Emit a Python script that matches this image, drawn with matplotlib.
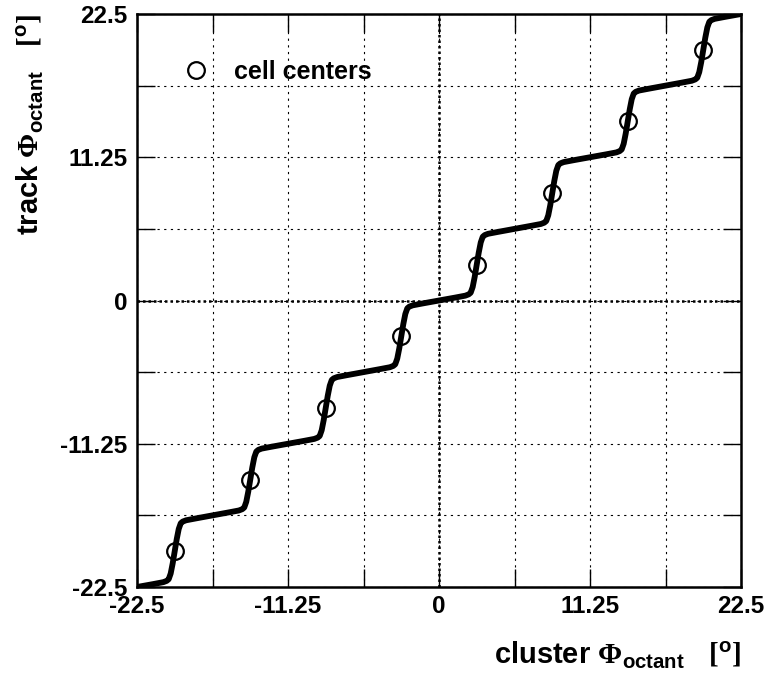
import matplotlib
matplotlib.use("Agg")
import matplotlib.pyplot as plt
from matplotlib.lines import Line2D

plt.rcParams["font.family"] = ["Liberation Sans", "DejaVu Sans"]
plt.rcParams["font.weight"] = "bold"
plt.rcParams["mathtext.fontset"] = "custom"
plt.rcParams["mathtext.rm"] = "Liberation Serif"
plt.rcParams["mathtext.bf"] = "Liberation Sans:bold"
plt.rcParams["mathtext.it"] = "Liberation Sans:bold"

# response curve: track phi vs cluster phi inside one octant (degrees)
cluster_phi = [
    -22.5, -21.29, -20.54, -20.29, -20.14, -19.99, -19.84, -19.69, -19.54, -19.39, -19.24, -19.09, -18.84, -18.09,
    -16.875, -15.66, -14.91, -14.66, -14.51, -14.36, -14.21, -14.06, -13.91, -13.76, -13.61, -13.46, -13.21, -12.46,
    -11.25, -10.04, -9.29, -9.04, -8.89, -8.74, -8.59, -8.44, -8.29, -8.14, -7.99, -7.84, -7.59, -6.84,
    -5.625, -4.41, -3.66, -3.41, -3.26, -3.11, -2.96, -2.81, -2.66, -2.51, -2.36, -2.21, -1.96, -1.21,
    0.0, 1.21, 1.96, 2.21, 2.36, 2.51, 2.66, 2.81, 2.96, 3.11, 3.26, 3.41, 3.66, 4.41,
    5.625, 6.84, 7.59, 7.84, 7.99, 8.14, 8.29, 8.44, 8.59, 8.74, 8.89, 9.04, 9.29, 10.04,
    11.25, 12.46, 13.21, 13.46, 13.61, 13.76, 13.91, 14.06, 14.21, 14.36, 14.51, 14.66, 14.91, 15.66,
    16.875, 18.09, 18.84, 19.09, 19.24, 19.39, 19.54, 19.69, 19.84, 19.99, 20.14, 20.29, 20.54, 21.29,
    22.5,
]
track_phi = [
    -22.5, -22.27, -22.12, -22.02, -21.89, -21.44, -20.64, -19.69, -18.74, -17.94, -17.49, -17.36, -17.26, -17.11,
    -16.875, -16.64, -16.49, -16.39, -16.26, -15.81, -15.01, -14.06, -13.11, -12.31, -11.86, -11.73, -11.63, -11.48,
    -11.25, -11.02, -10.87, -10.77, -10.64, -10.19, -9.39, -8.44, -7.49, -6.69, -6.24, -6.11, -6.01, -5.86,
    -5.625, -5.39, -5.24, -5.14, -5.01, -4.56, -3.76, -2.81, -1.86, -1.06, -0.61, -0.48, -0.38, -0.23,
    0.0, 0.23, 0.38, 0.48, 0.61, 1.06, 1.86, 2.81, 3.76, 4.56, 5.01, 5.14, 5.24, 5.39,
    5.625, 5.86, 6.01, 6.11, 6.24, 6.69, 7.49, 8.44, 9.39, 10.19, 10.64, 10.77, 10.87, 11.02,
    11.25, 11.48, 11.63, 11.73, 11.86, 12.31, 13.11, 14.06, 15.01, 15.81, 16.26, 16.39, 16.49, 16.64,
    16.875, 17.11, 17.26, 17.36, 17.49, 17.94, 18.74, 19.69, 20.64, 21.44, 21.89, 22.02, 22.12, 22.27,
    22.5,
]

# cell centers
cell_x = [-19.6875, -14.0625, -8.4375, -2.8125, 2.8125, 8.4375, 14.0625, 19.6875]
cell_y = [-19.6875, -14.0625, -8.4375, -2.8125, 2.8125, 8.4375, 14.0625, 19.6875]

ticks = [-22.5, -16.875, -11.25, -5.625, 0, 5.625, 11.25, 16.875, 22.5]
tick_labels = ["-22.5", "", "-11.25", "", "0", "", "11.25", "", "22.5"]

fig = plt.figure(figsize=(7.65, 6.78), dpi=100)
ax = fig.add_axes([137 / 765, 1 - 587 / 678, 604 / 765, 573 / 678])

ax.set_xlim(-22.5, 22.5)
ax.set_ylim(-22.5, 22.5)
ax.set_xticks(ticks)
ax.set_xticklabels(tick_labels)
ax.set_yticks(ticks)
ax.set_yticklabels(tick_labels)
ax.tick_params(direction="in", length=13, width=1.0, top=True, right=True,
               labelsize=17.5, color="black")
ax.tick_params(axis="x", pad=6)
ax.tick_params(axis="y", pad=7)
for lab in ax.get_xticklabels() + ax.get_yticklabels():
    lab.set_fontweight("bold")

ax.grid(True, color="black", lw=0.8, ls=(0, (2, 4)))
ax.axhline(0, color="black", lw=1.8, ls=(0, (1, 1.2)), zorder=1)
ax.axvline(0, color="black", lw=1.8, ls=(0, (1, 1.2)), zorder=1)
for s in ax.spines.values():
    s.set_linewidth(1.8)

ax.plot(cluster_phi, track_phi, color="black", lw=4.2,
        solid_joinstyle="round", solid_capstyle="round", zorder=3)
ax.plot(cell_x, cell_y, ls="none", marker="o", ms=12, mfc="none",
        mec="black", mew=1.6, zorder=4)

handle = Line2D([], [], ls="none", marker="o", ms=12, mfc="none",
                mec="black", mew=1.6)
ax.legend([handle], ["cell centers"], loc="center left",
          bbox_to_anchor=(0.0565, 0.899), frameon=False, borderpad=0,
          handlelength=1.0, handletextpad=1.0,
          prop={"size": 18, "weight": "bold"})

fig.text(741 / 765, 1 - 655 / 678,
         r"cluster $\mathrm{\Phi}_{\mathbf{octant}}$   $\mathrm{[}^{\mathbf{o}}\mathrm{]}$",
         ha="right", va="center", fontsize=21, fontweight="bold")
fig.text(30 / 765, 1 - 14 / 678,
         r"track $\mathrm{\Phi}_{\mathbf{octant}}$   $\mathrm{[}^{\mathbf{o}}\mathrm{]}$",
         ha="center", va="top", rotation=90, fontsize=21, fontweight="bold")

fig.savefig("out.png", dpi=100)
